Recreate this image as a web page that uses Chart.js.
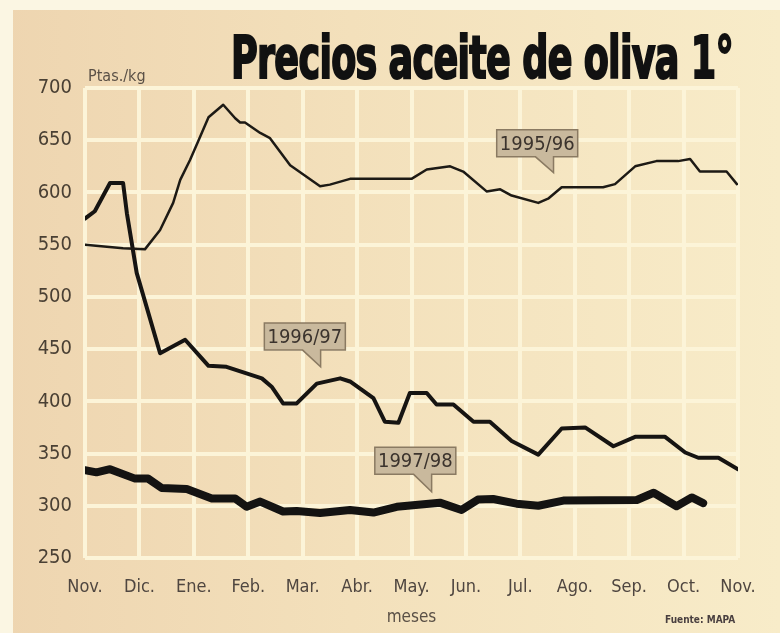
<!DOCTYPE html>
<html>
<head>
<meta charset="utf-8">
<script src="https://cdn.jsdelivr.net/npm/chart.js@4"></script>
<style>
  html, body { margin: 0; padding: 0; background: #f3e2bd; }
  #wrap { position: relative; width: 780px; height: 633px; overflow: hidden; }
  #chart { position: absolute; left: 0; top: 0; }
  #title { position: absolute; left: 231px; top: 29px; font: bold 58px 'DejaVu Sans Condensed', sans-serif;
           color: #111; white-space: nowrap; transform-origin: 0 0; line-height: 1;
           -webkit-text-stroke: 2px #111; letter-spacing: -1px; }
  #unit { position: absolute; left: 88px; top: 66px; font: 16px 'Liberation Sans Narrow', 'DejaVu Sans Condensed', sans-serif; color: #5a5046; }
  #source { position: absolute; left: 665px; top: 614px; font: bold 10px 'DejaVu Sans Condensed', sans-serif; color: #4a4040; }
</style>
</head>
<body>
<div id="wrap">
  <canvas id="chart" width="780" height="633"></canvas>
  <div id="title">Precios aceite de oliva 1°</div>
  <div id="unit">Ptas./kg</div>
  <div id="source">Fuente: MAPA</div>
</div>
<script>
// eje X: meses de campaña (Nov. = 0 ... Nov. = 12)
const months = ['Nov.', 'Dic.', 'Ene.', 'Feb.', 'Mar.', 'Abr.', 'May.', 'Jun.', 'Jul.', 'Ago.', 'Sep.', 'Oct.', 'Nov.'];

// campaña 1995/96
const mes9596 = [0, 0.70, 1.10, 1.38, 1.62, 1.75, 1.93, 2.08, 2.27, 2.54, 2.76, 2.85, 2.94, 3.22, 3.40, 3.77, 4.32, 4.50, 4.87,
                 6.00, 6.28, 6.71, 6.95, 7.38, 7.63, 7.84, 8.33, 8.51, 8.76, 9.52, 9.74, 10.11, 10.50, 10.90, 11.12, 11.30, 11.79, 11.98];
const precio9596 = [550, 546.5, 545.5, 564, 590, 612, 631, 649, 672, 684, 671, 667, 667, 657, 652, 626, 606, 607.5, 613,
                    613, 622, 625, 620, 601, 603, 597, 590, 594, 605, 605, 608, 625, 630, 630, 632, 620, 620, 608];

// campaña 1996/97
const mes9697 = [0, 0.18, 0.46, 0.70, 0.77, 0.95, 1.38, 1.84, 2.27, 2.60, 3.25, 3.43, 3.64, 3.89, 4.26, 4.69, 4.87, 5.30, 5.51,
                 5.76, 5.97, 6.28, 6.46, 6.77, 7.14, 7.44, 7.84, 8.33, 8.76, 9.19, 9.71, 10.11, 10.66, 11.03, 11.27, 11.64, 12.0];
const precio9697 = [575, 582, 609, 609, 580, 523, 446, 459, 434, 433, 422, 414, 398, 398, 417, 422, 419, 403, 380.5,
                    379.5, 408, 408, 397, 397, 380.5, 380.5, 362, 349, 374, 375, 357, 366, 366, 351, 346, 346, 335];

// campaña 1997/98
const mes9798 = [0, 0.21, 0.46, 0.92, 1.16, 1.41, 1.87, 2.33, 2.76, 2.97, 3.22, 3.64, 3.89, 4.32, 4.87, 5.30, 5.73,
                 6.52, 6.92, 7.22, 7.50, 7.93, 8.33, 8.79, 10.14, 10.45, 10.87, 11.15, 11.36];
const precio9798 = [334, 332, 335, 326, 326, 317, 316, 307, 307, 299, 304, 294.5, 295, 293, 296, 293.5, 299,
                    303, 296, 306, 306.5, 302, 300, 305, 305.5, 312.5, 299.5, 308, 302.5];

// etiquetas de campaña (centro del cartel y punta de la flecha, en unidades de los ejes)
const noteText = ['1995/96', '1996/97', '1997/98'];
const noteMes = [8.31, 4.04, 6.07];
const notePrecio = [647, 462, 343];
const tipMes = [8.61, 4.33, 6.37];
const tipPrecio = [619, 433, 313.5];

const narrow = "'Liberation Sans Narrow', 'DejaVu Sans Condensed', sans-serif";

function pts(xs, ys) {
    return xs.map((x, i) => ({ x: x, y: ys[i] }));
}

const paper = {
    id: 'paper',
    beforeDraw(chart) {
        const { ctx, width, height } = chart;
        ctx.save();
        const g = ctx.createLinearGradient(0, 0, width, 0);
        g.addColorStop(0, '#eed5b0');
        g.addColorStop(0.45, '#f3e0bb');
        g.addColorStop(1, '#f8ecc9');
        ctx.fillStyle = g;
        ctx.fillRect(0, 0, width, height);
        ctx.fillStyle = '#fbf6e3';
        ctx.fillRect(0, 0, 13, height);
        ctx.fillRect(0, 0, width, 10);
        ctx.restore();
    }
};

const notes = {
    id: 'notes',
    afterDatasetsDraw(chart) {
        const { ctx, scales } = chart;
        const w = 81, h = 27;
        ctx.save();
        ctx.font = '20px ' + narrow;
        ctx.textAlign = 'center';
        ctx.textBaseline = 'middle';
        for (let i = 0; i < noteText.length; i++) {
            const cx = scales.x.getPixelForValue(noteMes[i]);
            const cy = scales.y.getPixelForValue(notePrecio[i]);
            const tx = scales.x.getPixelForValue(tipMes[i]);
            const ty = scales.y.getPixelForValue(tipPrecio[i]);
            const l = cx - w / 2, r = cx + w / 2, t = cy - h / 2, b = cy + h / 2;
            ctx.beginPath();
            ctx.moveTo(l, t);
            ctx.lineTo(r, t);
            ctx.lineTo(r, b);
            ctx.lineTo(tx, b);
            ctx.lineTo(tx, ty);
            ctx.lineTo(tx - 18, b);
            ctx.lineTo(l, b);
            ctx.closePath();
            ctx.fillStyle = '#c9b99d';
            ctx.fill();
            ctx.strokeStyle = '#8a7a62';
            ctx.lineWidth = 1.5;
            ctx.stroke();
            ctx.fillStyle = '#3b332d';
            ctx.fillText(noteText[i], cx, cy + 1);
        }
        ctx.restore();
    }
};

const gridStyle = { color: '#fcf4d8', lineWidth: 4, drawTicks: false };

new Chart(document.getElementById('chart').getContext('2d'), {
    type: 'line',
    data: {
        datasets: [
            { label: '1995/96', data: pts(mes9596, precio9596), borderColor: '#1d1a15', borderWidth: 2.5 },
            { label: '1996/97', data: pts(mes9697, precio9697), borderColor: '#161412', borderWidth: 4 },
            { label: '1997/98', data: pts(mes9798, precio9798), borderColor: '#141312', borderWidth: 8 }
        ]
    },
    options: {
        responsive: false,
        animation: false,
        devicePixelRatio: 1,
        layout: { padding: { top: 88, right: 42, left: 0, bottom: 0 } },
        elements: {
            point: { radius: 0 },
            line: { tension: 0, borderJoinStyle: 'round', borderCapStyle: 'round', fill: false }
        },
        plugins: { legend: { display: false }, tooltip: { enabled: false } },
        scales: {
            x: {
                type: 'linear', min: 0, max: 12,
                afterFit(s) { s.height = 75; },
                ticks: {
                    stepSize: 1, autoSkip: false, maxRotation: 0, padding: 19,
                    color: '#4f4640', font: { family: narrow, size: 18 },
                    callback: v => months[v]
                },
                grid: gridStyle,
                border: { display: false },
                title: {
                    display: true, text: 'meses', color: '#5a5046',
                    font: { family: narrow, size: 17 }, padding: { top: 0, bottom: 5 }
                }
            },
            y: {
                min: 250, max: 700,
                afterFit(s) { s.width = 85; },
                ticks: { stepSize: 50, padding: 13, color: '#4a4034', font: { family: narrow, size: 20 } },
                grid: gridStyle,
                border: { display: false }
            }
        }
    },
    plugins: [paper, notes]
});

const title = document.getElementById('title');
const tw = title.getBoundingClientRect().width;
title.style.transform = 'scaleX(' + (502 / tw) + ')';
</script>
</body>
</html>
